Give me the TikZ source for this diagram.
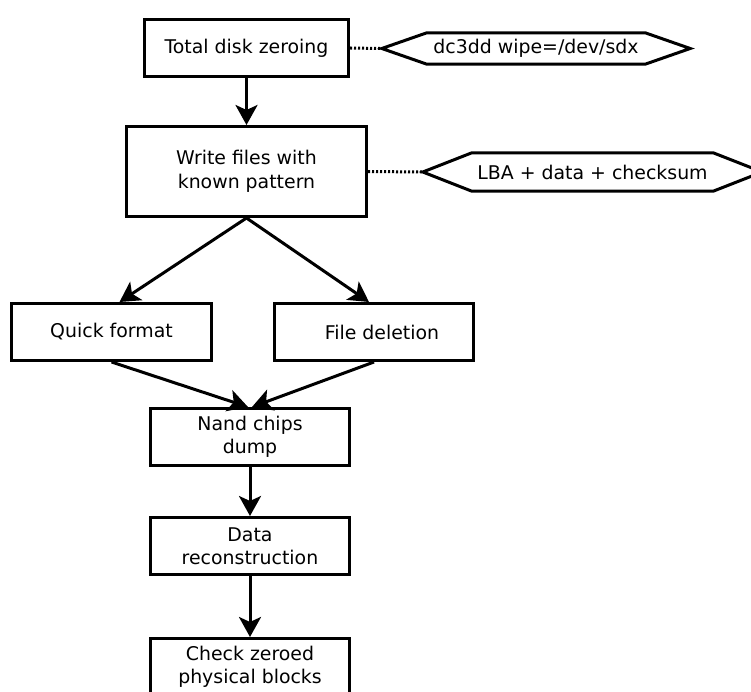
\documentclass[tikz,border=0pt]{standalone}
\usepackage{fontspec}
\setmainfont{DejaVu Sans}
\usetikzlibrary{arrows.meta}

\tikzset{
  stepbox/.style={draw=black, line width=3pt, fill=white, inner sep=0pt,
    align=center, font=\fontsize{18.9pt}{23.5pt}\selectfont},
  hexnode/.style={inner sep=0pt, align=center,
    font=\fontsize{18.9pt}{23.5pt}\selectfont},
  hexline/.style={draw=black, line width=3pt},
  flow/.style={draw=black, line width=3pt,
    -{Stealth[length=20pt, width=22pt, inset=5pt]}},
  dotline/.style={draw=black, line width=3pt, dash pattern=on 2.2pt off 1.8pt}
}

\begin{document}
\begin{tikzpicture}[x=1pt, y=-1pt]
  \useasboundingbox (0,0) rectangle (751,692);

  % main flow
  \node[stepbox, minimum width=204pt, minimum height=57pt] (zero) at (246.5,48) {Total disk zeroing};
  \node[stepbox, minimum width=240pt, minimum height=90pt] (write) at (246.5,171.5) {Write files with\\known pattern};
  \node[stepbox, minimum width=200pt, minimum height=57pt] (quick) at (111.5,332) {Quick format};
  \node[stepbox, minimum width=199pt, minimum height=57pt] (fdel) at (374,332) {\hspace*{16pt}File deletion};
  \node[stepbox, minimum width=199pt, minimum height=57pt] (nand) at (250,437) {Nand chips\\dump};
  \node[stepbox, minimum width=199pt, minimum height=57pt] (recon) at (250,546) {Data\\reconstruction};
  \node[stepbox, minimum width=199pt, minimum height=57pt] (check) at (250,667) {Check zeroed\\physical blocks};

  % annotations (hexagons)
  \node[hexnode, minimum width=218pt, minimum height=31pt] (wipe) at (536,48.5) {dc3dd wipe=/dev/sdx};
  \draw[hexline] (wipe.north west) -- (wipe.north east) -- ([xshift=45pt]wipe.east)
    -- (wipe.south east) -- (wipe.south west) -- ([xshift=-45pt]wipe.west) -- cycle;
  \coordinate (wipetip) at ([xshift=-45pt]wipe.west);

  \node[hexnode, minimum width=241pt, minimum height=38pt] (lba) at (592.5,172) {LBA + data + checksum};
  \draw[hexline] (lba.north west) -- (lba.north east) -- ([xshift=49pt]lba.east)
    -- (lba.south east) -- (lba.south west) -- ([xshift=-49pt]lba.west) -- cycle;
  \coordinate (lbatip) at ([xshift=-49pt]lba.west);

  % dotted links to annotations
  \draw[dotline] (zero.east) -- (wipetip);
  \draw[dotline] (write.east) -- (lbatip);

  % arrows
  \draw[flow] (zero.south) -- (write.north);
  \draw[flow] (write.south) -- ([xshift=8pt]quick.north);
  \draw[flow] (write.south) -- ([xshift=-5pt]fdel.north);
  \draw[flow] (quick.south) -- ([xshift=-2pt]nand.north);
  \draw[flow] (fdel.south) -- ([xshift=2pt]nand.north);
  \draw[flow] (nand.south) -- (recon.north);
  \draw[flow] (recon.south) -- (check.north);
\end{tikzpicture}
\end{document}
